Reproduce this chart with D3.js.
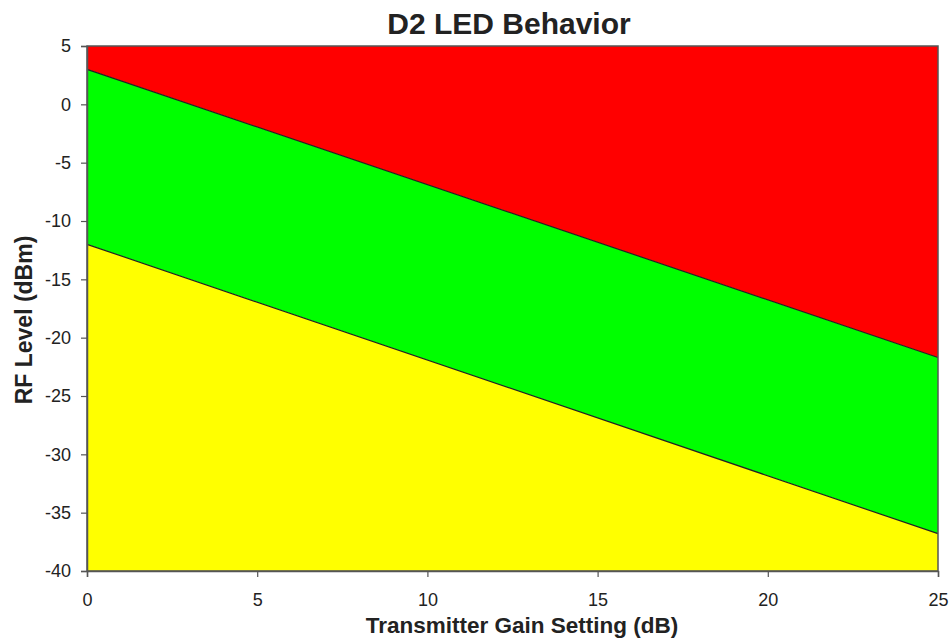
<!DOCTYPE html>
<html><head><meta charset="utf-8">
<script src="https://cdn.jsdelivr.net/npm/d3@7"></script>
<style>body{margin:0;background:#fff;}text{font-family:"Liberation Sans",Arial,sans-serif;}</style>
</head><body><svg id="c" width="951" height="639"></svg>
<script>
const gain = [0, 25];
const upperLimit = [3.0, -21.7];   // red / green boundary (dBm)
const lowerLimit = [-12.0, -36.8]; // green / yellow boundary (dBm)
const xTicks = [0, 5, 10, 15, 20, 25];
const yTicks = [5, 0, -5, -10, -15, -20, -25, -30, -35, -40];

const svg = d3.select("#c");
const m = {l: 87, r: 938, t: 46, b: 571};
const x = d3.scaleLinear().domain([0, 25]).range([m.l, m.r]);
const y = d3.scaleLinear().domain([-40, 5]).range([m.b, m.t]);

const pts = a => gain.map((g, i) => [x(g), y(a[i])]);
const up = pts(upperLimit), lo = pts(lowerLimit);

svg.append("path").attr("fill", "#ff0000")
  .attr("d", d3.line()([[x(0), y(5)], [x(25), y(5)], up[1], up[0]]) + "Z");
svg.append("path").attr("fill", "#00ff00")
  .attr("d", d3.line()([up[0], up[1], lo[1], lo[0]]) + "Z");
svg.append("path").attr("fill", "#ffff00")
  .attr("d", d3.line()([lo[0], lo[1], [x(25), y(-40)], [x(0), y(-40)]]) + "Z");

svg.append("path").attr("fill", "none").attr("stroke", "#222").attr("stroke-width", 1.2)
  .attr("d", d3.line()(up));
svg.append("path").attr("fill", "none").attr("stroke", "#222").attr("stroke-width", 1.2)
  .attr("d", d3.line()(lo));

svg.append("rect").attr("x", m.l).attr("y", m.t).attr("width", m.r - m.l).attr("height", m.b - m.t)
  .attr("fill", "none").attr("stroke", "#555").attr("stroke-width", 1.5);

const xa = svg.append("g").attr("transform", `translate(0,${m.b})`)
  .call(d3.axisBottom(x).tickValues(xTicks).tickSize(6).tickPadding(16).tickFormat(d3.format("d")));
const ya = svg.append("g").attr("transform", `translate(${m.l},0)`)
  .call(d3.axisLeft(y).tickValues(yTicks).tickSize(6).tickPadding(10).tickFormat(d => d));
[xa, ya].forEach(a => {
  a.attr("font-size", 18).attr("font-family", "Liberation Sans, Arial, sans-serif");
  a.select(".domain").attr("stroke", "#555").attr("stroke-width", 1.5);
  a.selectAll(".tick line").attr("stroke", "#555").attr("stroke-width", 1.2);
  a.selectAll("text").attr("font-size", 18).style("font-size", "18px").attr("fill", "#222");
});

svg.append("text").attr("x", 509).attr("y", 34).attr("text-anchor", "middle")
  .attr("font-size", 30).attr("font-weight", "bold").attr("fill", "#222").text("D2 LED Behavior");
svg.append("text").attr("x", 522).attr("y", 633).attr("text-anchor", "middle")
  .attr("font-size", 22.5).attr("font-weight", "bold").attr("fill", "#222").text("Transmitter Gain Setting (dB)");
svg.append("text").attr("transform", "translate(32,320) rotate(-90)").attr("text-anchor", "middle")
  .attr("font-size", 23).attr("font-weight", "bold").attr("fill", "#222").text("RF Level (dBm)");
</script></body></html>
